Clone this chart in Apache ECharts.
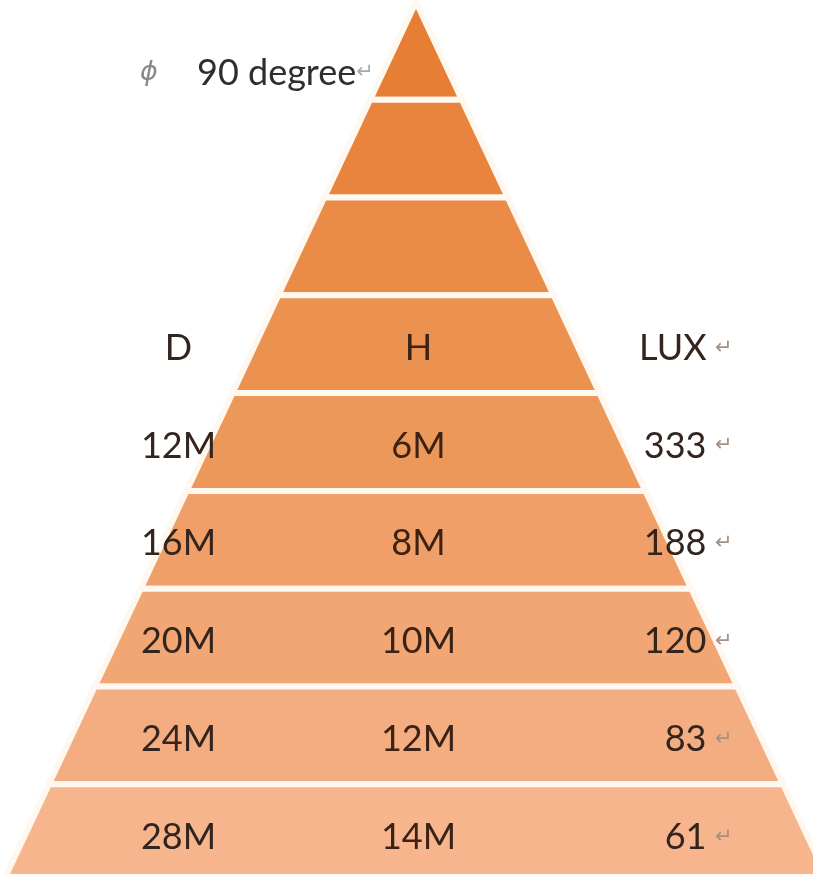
<!DOCTYPE html>
<html>
<head>
<meta charset="utf-8">
<title>90 degree</title>
<script src="https://cdn.jsdelivr.net/npm/echarts@6/dist/echarts.min.js"></script>
<style>
html, body { margin: 0; padding: 0; background: #fff; }
#pyramid { width: 813px; height: 874px; }
</style>
</head>
<body>
<div id="pyramid"></div>
<script>
/* band level, counted from the apex */
var levels = [1, 2, 3, 4, 5, 6, 7, 8, 9];
/* text in each band (empty = no text) */
var distD = ['', '', '', 'D', '12M', '16M', '20M', '24M', '28M'];
var heightH = ['', '', '', 'H', '6M', '8M', '10M', '12M', '14M'];
var lux = ['', '', '', 'LUX', '333', '188', '120', '83', '61'];
var angleText = '90 degree';

// band colours, dark orange on top to peach at the base
var bandColors = ['#e67e33', '#e8843d', '#ea8b47', '#eb9251', '#ed985b',
                  '#ef9f67', '#f1a673', '#f3ad80', '#f6b58d'];

var fontName = 'Lato';

function loadPyramid(){
	var chart = echarts.init(document.getElementById('pyramid'));

	var data = [];
	for (var i = 0; i < levels.length; i++) {
		data.push({
			value : levels[i],
			name : 'band' + levels[i],
			itemStyle : { color : bandColors[i] }
		});
	}

	var option = {
		backgroundColor : '#fff',
		animation : false,
		title : {
			text : '{p|ϕ}{t|' + angleText + '}{r|↵}',
			left : 135,
			top : 50,
			textStyle : {
				fontWeight : 'normal',
				rich : {
					p : { fontFamily : 'DejaVu Sans', fontStyle : 'italic', fontWeight : 'normal', fontSize : 27, color : '#888', width : 57 },
					t : { fontFamily : fontName, fontWeight : 'normal', fontSize : 36, color : '#2e2e2e' },
					r : { fontFamily : 'DejaVu Sans', fontWeight : 'normal', fontSize : 21, color : '#aaa' }
				}
			}
		},
		series : [ {
			type : 'funnel',
			sort : 'ascending',
			left : 3,
			top : 2,
			width : 826,
			height : 880,
			min : 0,
			max : levels.length,
			minSize : '0%',
			maxSize : '100%',
			gap : 0,
			itemStyle : {
				borderColor : '#fff8f0',
				borderWidth : 6
			},
			emphasis : { disabled : true },
			labelLine : { show : false },
			label : {
				show : true,
				position : 'inside',
				padding : [8, 0, 0, 0],
				formatter : function(p){
					var i = p.dataIndex;
					if (!distD[i]) return '';
					return '{a|' + distD[i] + '}{b|' + heightH[i] + '}{c|' + lux[i] + '}{r|↵}';
				},
				rich : {
					a : { fontFamily : fontName, fontSize : 36, color : '#33241d', width : 158, align : 'center' },
					b : { fontFamily : fontName, fontSize : 36, color : '#3c2215', width : 322, align : 'center' },
					c : { fontFamily : fontName, fontSize : 36, color : '#33241d', width : 127, align : 'right' },
					r : { fontFamily : 'DejaVu Sans', fontSize : 21, color : '#a89080', width : 26, align : 'right' }
				}
			},
			data : data
		} ]
	};
	chart.setOption(option);
}

loadPyramid();
</script>
</body>
</html>
